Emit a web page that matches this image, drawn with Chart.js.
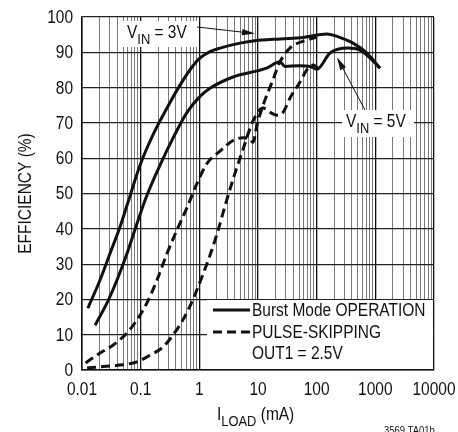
<!DOCTYPE html>
<html>
<head>
<meta charset="utf-8">
<script src="https://cdn.jsdelivr.net/npm/chart.js@4"></script>
<style>
  html, body { margin: 0; padding: 0; background: #fff; }
  canvas { display: block; }
</style>
</head>
<body>
<canvas id="effChart" width="458" height="432"></canvas>
<script>
// Load current (mA) and efficiency (%) for each curve
const burst3vLoad = [0.0126, 0.0203, 0.030, 0.0444, 0.0608, 0.0975, 0.162, 0.281, 0.468, 0.78, 1.03, 1.52, 2.25, 4.93, 8.2, 23.7, 58.5, 150, 222, 415, 720, 1200];
const burst3vEff  = [17.5, 25.5, 33, 40.5, 47.5, 58, 66.6, 74.2, 80.7, 86.2, 88.4, 90.2, 91.2, 92.6, 93.2, 93.8, 94.2, 95.2, 94.5, 92.6, 89.8, 85.5];

const burst5vLoad = [0.0167, 0.0267, 0.0395, 0.0585, 0.0866, 0.128, 0.213, 0.356, 0.616, 1.03, 1.52, 3.75, 14, 23.7, 28.8, 50, 77, 101, 169, 342, 547, 811, 1200];
const burst5vEff  = [12.7, 19, 25.5, 33, 41.5, 49.5, 58, 65.7, 73, 77.5, 79.8, 83, 85.5, 87.3, 86, 86.2, 86, 85.2, 89.8, 91.2, 90.6, 88.4, 85.5];

const skip3vLoad = [0.0115, 0.0203, 0.0337, 0.0585, 0.0866, 0.128, 0.19, 0.281, 0.416, 0.616, 0.949, 1.35, 2.25, 3.75, 5.55, 7.3, 8.2, 9.6, 12.2, 17.4, 23.7, 35, 68, 101];
const skip3vEff  = [2, 4.8, 7, 10.5, 14.2, 19, 25.5, 33, 39.7, 46, 53.5, 58.5, 62, 65, 65.8, 65.5, 64.5, 69.4, 75, 81.6, 87.3, 91.2, 93.5, 94.3];

const skip5vLoad = [0.0122, 0.0203, 0.0445, 0.0866, 0.144, 0.24, 0.356, 0.526, 0.78, 1.03, 1.52, 2.08, 2.74, 3.75, 5.55, 8.2, 12.2, 16, 21.1, 26.7, 35, 52, 68, 86.5, 105];
const skip5vEff  = [0.6, 0.9, 1.4, 2.3, 4.2, 6.5, 9.9, 14.2, 20, 25, 32.5, 39.5, 46.5, 54, 62.5, 70.5, 74.2, 73, 72.2, 73, 77, 81.6, 85, 86.4, 85.5];

const xTickValues = [0.01, 0.1, 1, 10, 100, 1000, 10000];
const xTickLabels = ["0.01", "0.1", "1", "10", "100", "1000", "10000"];
const yTickValues = [0, 10, 20, 30, 40, 50, 60, 70, 80, 90, 100];
const yTickLabels = ["0", "10", "20", "30", "40", "50", "60", "70", "80", "90", "100"];

// condensed look: regular face squeezed horizontally
const FONT = "'Liberation Sans', Arimo, Arial, sans-serif";
const SX = 0.86;

function points(xs, ys) {
  return xs.map((v, i) => ({ x: v, y: ys[i] }));
}

function isDecade(v) {
  const l = Math.log10(v);
  return Math.abs(l - Math.round(l)) < 1e-6;
}

function text(ctx, s, x, y, size, align, baseline) {
  ctx.save();
  ctx.translate(x, y);
  ctx.scale(SX, 1);
  ctx.font = size + "px " + FONT;
  ctx.textAlign = align || "left";
  ctx.textBaseline = baseline || "alphabetic";
  ctx.fillText(s, 0, 0);
  ctx.restore();
}

function width(ctx, s, size) {
  ctx.font = size + "px " + FONT;
  return ctx.measureText(s).width * SX;
}

// text with a subscript part, e.g. V_IN
function subText(ctx, x, y, main, sub, rest, size, subSize) {
  text(ctx, main, x, y, size);
  x += width(ctx, main, size);
  text(ctx, sub, x, y + 6, subSize);
  x += width(ctx, sub, subSize);
  text(ctx, rest, x, y, size);
}

function arrow(ctx, x0, y0, x1, y1) {
  const ang = Math.atan2(y1 - y0, x1 - x0);
  const len = 13, half = 3.2;
  const c = Math.cos(ang), s = Math.sin(ang);
  ctx.strokeStyle = "#111";
  ctx.lineWidth = 1;
  ctx.beginPath();
  ctx.moveTo(x0, y0);
  ctx.lineTo(x1 - c * len, y1 - s * len);
  ctx.stroke();
  ctx.fillStyle = "#111";
  ctx.beginPath();
  ctx.moveTo(x1, y1);
  ctx.lineTo(x1 - c * len - s * half, y1 - s * len + c * half);
  ctx.lineTo(x1 - c * len + s * half, y1 - s * len - c * half);
  ctx.closePath();
  ctx.fill();
}

const labelsPlugin = {
  id: "labels",
  afterDatasetsDraw(chart) {
    const { ctx, chartArea: area, scales: { x, y } } = chart;
    ctx.save();
    ctx.fillStyle = "#111";

    // tick labels
    xTickValues.forEach((v, i) => text(ctx, xTickLabels[i], x.getPixelForValue(v), area.bottom + 20, 18, "center", "middle"));
    yTickValues.forEach((v, i) => text(ctx, yTickLabels[i], area.left - 9, y.getPixelForValue(v) + 1, 18, "right", "middle"));

    // V_IN = 3V callout
    ctx.fillStyle = "#fff";
    ctx.fillRect(123, 21, 74, 26);
    ctx.fillStyle = "#111";
    subText(ctx, 127, 38, "V", "IN", " = 3V", 18, 15);
    arrow(ctx, 197, 27, x.getPixelForValue(8.9), y.getPixelForValue(95.3));

    // V_IN = 5V callout
    ctx.fillStyle = "#fff";
    ctx.fillRect(342, 110, 72, 27);
    ctx.fillStyle = "#111";
    subText(ctx, 346, 127, "V", "IN", " = 5V", 18, 15);
    arrow(ctx, 365, 110, x.getPixelForValue(222), y.getPixelForValue(88.6));

    // legend block
    ctx.fillStyle = "#fff";
    ctx.fillRect(207, 300, 226, 69);
    ctx.strokeStyle = "#111";
    ctx.lineWidth = 3;
    ctx.beginPath();
    ctx.moveTo(213, 310);
    ctx.lineTo(250, 310);
    ctx.stroke();
    ctx.setLineDash([9, 5]);
    ctx.beginPath();
    ctx.moveTo(213, 332);
    ctx.lineTo(250, 332);
    ctx.stroke();
    ctx.setLineDash([]);
    ctx.fillStyle = "#111";
    text(ctx, "Burst Mode OPERATION", 252, 311, 18, "left", "middle");
    text(ctx, "PULSE-SKIPPING", 252, 333, 18, "left", "middle");
    text(ctx, "OUT1 = 2.5V", 252, 354, 18, "left", "middle");

    // axis titles
    subText(ctx, 217, 420, "I", "LOAD", " (mA)", 18, 15);
    ctx.save();
    ctx.translate(26, (area.top + area.bottom) / 2);
    ctx.rotate(-Math.PI / 2);
    text(ctx, "EFFICIENCY (%)", 0, 0, 18, "center", "middle");
    ctx.restore();

    text(ctx, "3569 TA01b", 384, 425, 11, "left", "top");
    ctx.restore();
  }
};

const solid = { borderColor: "#111", borderWidth: 3, pointRadius: 0, cubicInterpolationMode: "monotone", fill: false };
const dashed = { ...solid, borderDash: [9, 5] };

new Chart(document.getElementById("effChart").getContext("2d"), {
  type: "line",
  data: {
    datasets: [
      { label: "Burst Mode VIN = 3V", data: points(burst3vLoad, burst3vEff), ...solid },
      { label: "Burst Mode VIN = 5V", data: points(burst5vLoad, burst5vEff), ...solid },
      { label: "Pulse-skipping VIN = 3V", data: points(skip3vLoad, skip3vEff), ...dashed },
      { label: "Pulse-skipping VIN = 5V", data: points(skip5vLoad, skip5vEff), ...dashed },
    ],
  },
  options: {
    responsive: false,
    animation: false,
    layout: { padding: { top: 17, right: 24, left: 0, bottom: 0 } },
    plugins: { legend: { display: false }, tooltip: { enabled: false } },
    scales: {
      x: {
        type: "logarithmic",
        min: 0.01,
        max: 10000,
        afterFit: (s) => { s.height = 62; },
        afterBuildTicks: (s) => {
          const t = [];
          for (let e = -2; e <= 3; e++) {
            for (let m = 1; m <= 9; m++) t.push({ value: Number((m * Math.pow(10, e)).toPrecision(3)) });
          }
          t.push({ value: 10000 });
          s.ticks = t;
        },
        ticks: { display: false, autoSkip: false },
        grid: {
          drawTicks: false,
          color: (c) => (c.tick && isDecade(c.tick.value) ? "#111" : "#7a7a7a"),
          lineWidth: (c) => (c.tick && isDecade(c.tick.value) ? 1.3 : 1),
        },
        border: { color: "#111", width: 1.5 },
      },
      y: {
        min: 0,
        max: 100,
        afterFit: (s) => { s.width = 82; },
        ticks: { display: false, stepSize: 10 },
        grid: { drawTicks: false, color: "#222", lineWidth: 1.2 },
        border: { color: "#111", width: 1.5 },
      },
    },
  },
  plugins: [labelsPlugin],
});
</script>
</body>
</html>
